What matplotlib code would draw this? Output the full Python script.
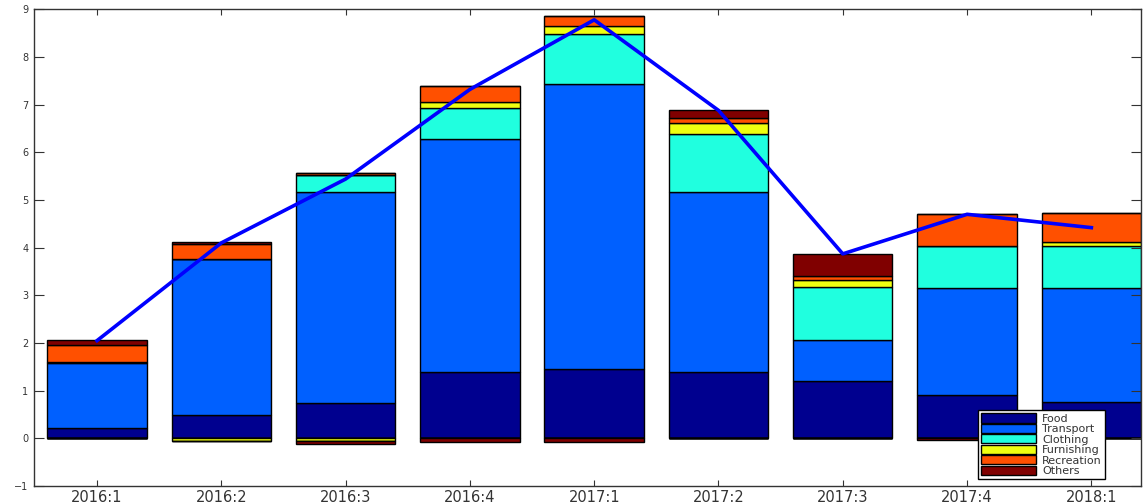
import matplotlib
matplotlib.use('Agg')
import matplotlib.pyplot as plt
import numpy as np

quarters = ['2016:1', '2016:2', '2016:3', '2016:4', '2017:1',
            '2017:2', '2017:3', '2017:4', '2018:1']

# contributions by component
food = [0.22, 0.49, 0.74, 1.39, 1.45, 1.39, 1.21, 0.90, 0.76]
transport = [1.35, 3.28, 4.42, 4.88, 5.98, 3.77, 0.85, 2.25, 2.39]
clothing = [0.03, 0.00, 0.37, 0.65, 1.06, 1.22, 1.11, 0.88, 0.88]
furnishing = [0.00, -0.06, -0.05, 0.13, 0.16, 0.23, 0.16, 0.00, 0.08]
recreation = [0.36, 0.30, 0.04, 0.35, 0.21, 0.10, 0.07, 0.67, 0.61]
others = [0.10, 0.05, -0.07, -0.08, -0.08, 0.18, 0.46, -0.04, 0.00]
total = [2.05, 4.10, 5.44, 7.32, 8.78, 6.88, 3.87, 4.70, 4.42]

names = ['Food', 'Transport', 'Clothing', 'Furnishing', 'Recreation', 'Others']
colors = ['#00008f', '#0060ff', '#20ffdf', '#efff10', '#ff5000', '#800000']

fig = plt.figure(figsize=(11.46, 5.04), dpi=100)
ax = fig.add_axes([0.0297, 0.0357, 0.966, 0.9458])

x = np.arange(1, len(quarters) + 1)
up = np.zeros(len(x))
down = np.zeros(len(x))
handles = []
for vals, name, col in zip([food, transport, clothing, furnishing, recreation, others], names, colors):
    v = np.array(vals)
    pos = np.where(v > 0, v, 0)
    neg = np.where(v < 0, v, 0)
    h = ax.bar(x, pos, 0.8, bottom=up, color=col, edgecolor='black', linewidth=1.0)
    ax.bar(x, neg, 0.8, bottom=down, color=col, edgecolor='black', linewidth=1.0)
    handles.append(h)
    up += pos
    down += neg

ax.plot(x, total, color='#0000ff', lw=2.6, zorder=5)

ax.set_xlim(0.493, 9.40)
ax.set_ylim(-1, 9)
ax.set_xticks(x, quarters)
ax.set_yticks(range(-1, 10))
ax.tick_params(direction='in', top=True, right=True, colors='#333333')
ax.tick_params(axis='x', length=4.5, pad=3, labelsize=10.5)
ax.tick_params(axis='y', length=7, pad=4, labelsize=7)
for s in ax.spines.values():
    s.set_linewidth(1.0)
    s.set_color('#333333')

leg = ax.legend(handles, names, loc='upper left',
                bbox_to_anchor=(978 / 1146, 1 - 410 / 504), bbox_transform=fig.transFigure,
                fontsize=8, handlelength=4.95, handleheight=0.9, labelspacing=0.0,
                handletextpad=0.5, borderpad=0.3, borderaxespad=0,
                fancybox=False, framealpha=1, edgecolor='black')
leg.get_frame().set_linewidth(1.0)
for t in leg.get_texts():
    t.set_color('#333333')

fig.savefig('out.png', dpi=100)
